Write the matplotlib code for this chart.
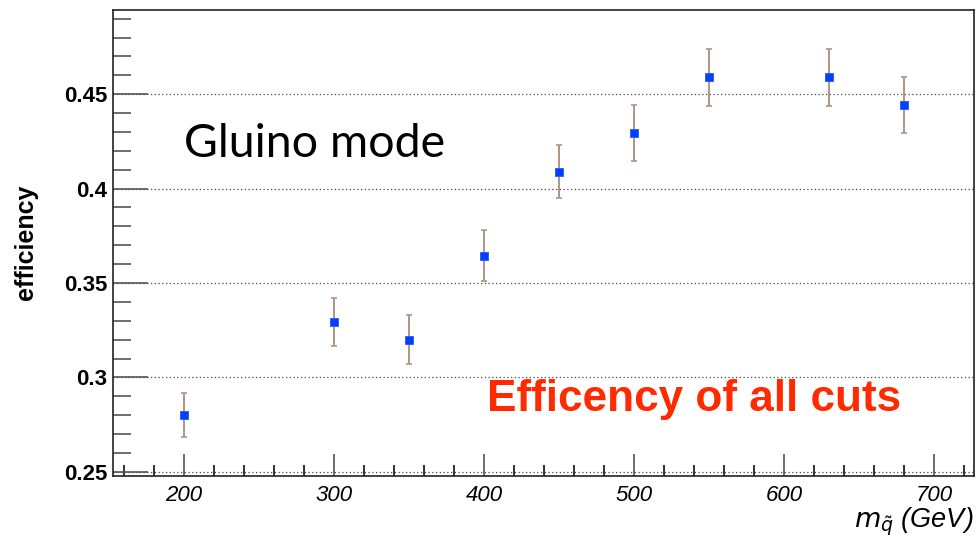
import matplotlib
matplotlib.use("Agg")
import matplotlib.pyplot as plt
from matplotlib.ticker import MultipleLocator, FuncFormatter

# ---- data ----
mass = [200, 300, 350, 400, 450, 500, 550, 630, 680]
efficiency = [0.280, 0.3295, 0.320, 0.3645, 0.409, 0.4295, 0.459, 0.459, 0.4443]
eff_err = [0.0118, 0.0127, 0.0128, 0.0135, 0.0142, 0.0147, 0.0152, 0.0152, 0.0146]
ytick_vals = [0.25, 0.30, 0.35, 0.40, 0.45]
xtick_vals = [200, 300, 400, 500, 600, 700]

plt.rcParams['font.family'] = ['Liberation Sans', 'DejaVu Sans']

fig = plt.figure(figsize=(9.76, 5.42), dpi=100)
L, R, T, B = 113, 974, 10.4, 476.3
ax = fig.add_axes([L/976, 1-B/542, (R-L)/976, (B-T)/542])

ax.set_xlim(152.7, 726.7)
ax.set_ylim(0.2476, 0.4944)

for v in ytick_vals:
    ax.axhline(v, color='#444444', lw=0.9, ls=(0, (1, 2)), zorder=1)

ax.errorbar(mass, efficiency, yerr=eff_err, fmt='none', ecolor='#b09484',
            elinewidth=1.4, capsize=2.3, capthick=1.2, zorder=2)
ax.plot(mass, efficiency, ls='none', marker='s', ms=5.6, color='#0040ff',
        mec='#2a55ff', mew=0.6, zorder=3)

ax.set_yticks(ytick_vals)
ax.yaxis.set_minor_locator(MultipleLocator(0.01))
ax.set_xticks(xtick_vals)
ax.xaxis.set_minor_locator(MultipleLocator(20))
ax.yaxis.set_major_formatter(FuncFormatter(lambda v, p: '%g' % round(v, 3)))

ax.tick_params(axis='y', which='major', direction='in', length=25, width=1.2,
               color='#555555', labelsize=16, pad=4)
ax.tick_params(axis='y', which='minor', direction='in', length=13, width=1.2,
               color='#555555')
ax.tick_params(axis='x', which='major', direction='in', length=16, width=1.2,
               color='#555555', labelsize=16, pad=6)
ax.tick_params(axis='x', which='minor', direction='in', length=8, width=1.2,
               color='#111111')
for lbl in ax.get_yticklabels():
    lbl.set_fontweight('bold')
for lbl in ax.get_xticklabels():
    lbl.set_fontstyle('italic')

for s in ax.spines.values():
    s.set_color('#222222')
    s.set_linewidth(1.2)

fig.text(26/976, 1-242/542, 'efficiency', rotation=90, ha='center', va='center',
         fontsize=18, fontweight='bold')

fig.text(973/976, 1-527/542, r'$m_{\tilde{q}}$ (GeV)', ha='right', va='baseline',
         fontsize=19.5, fontstyle='italic', math_fontfamily='dejavusans')

fig.text(184/976, 1-156.7/542, 'Gluino mode', fontsize=33.5, family='Lato',
         ha='left', va='baseline', color='black')
fig.text(487/976, 1-411/542, 'Efficency of all cuts', fontsize=31.8,
         fontweight='bold', color='#ff2a00', ha='left', va='baseline')

fig.savefig('out.png', dpi=100)
